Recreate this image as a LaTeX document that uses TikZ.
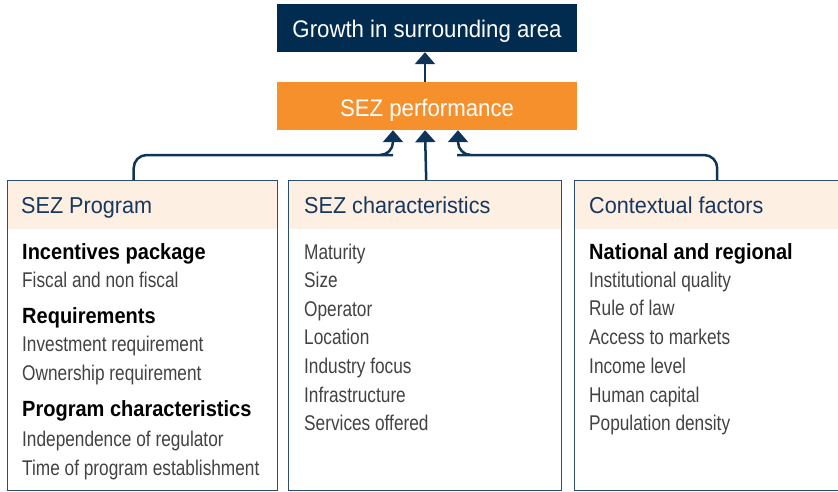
\documentclass[tikz,border=0pt]{standalone}
\usepackage{fontspec}
\setmainfont{Liberation Sans}
\newfontfamily\titlefont{Liberation Sans}[FakeStretch=0.925]
\newfontfamily\headfont{Liberation Sans}[FakeStretch=0.94]
\newfontfamily\groupfont{Liberation Sans}[FakeStretch=0.91]
\newfontfamily\itemfont{Liberation Sans}[FakeStretch=0.81]
\usetikzlibrary{arrows.meta,calc}

\definecolor{navy}{HTML}{022C4F}
\definecolor{orangefill}{HTML}{F6902D}
\definecolor{peach}{HTML}{FDF0E3}
\definecolor{linenavy}{HTML}{0E3558}
\definecolor{edgenavy}{HTML}{2B4D6E}
\definecolor{headtext}{HTML}{17375E}
\definecolor{itemgray}{HTML}{424242}

\tikzset{
  topbox/.style={rectangle, inner sep=0pt, minimum width=300pt, minimum height=48pt},
  toplabel/.style={anchor=base, inner sep=0pt, text=white,
    font=\titlefont\fontsize{24}{28}\selectfont},
  column/.style={rectangle, draw=edgenavy, line width=1.4pt, inner sep=0pt, anchor=north west},
  band/.style={rectangle, fill=peach, inner sep=0pt, anchor=north west},
  headlabel/.style={anchor=base west, inner sep=0pt, text=headtext,
    font=\headfont\fontsize{23}{27}\selectfont},
  grouplabel/.style={anchor=base west, inner sep=0pt, text=black,
    font=\groupfont\bfseries\fontsize{22}{26}\selectfont},
  itemlabel/.style={anchor=base west, inner sep=0pt, text=itemgray,
    font=\itemfont\fontsize{21.3}{25}\selectfont},
  conn/.style={draw=linenavy, line width=2.5pt, rounded corners=13pt,
    -{Triangle[width=20pt,length=12pt]}},
}

\begin{document}
\begin{tikzpicture}[x=1pt, y=-1pt]
\useasboundingbox (0,0) rectangle (838,491);
\clip (0,0) rectangle (838,491);

% outcome boxes
\node[topbox, fill=navy] (growth) at (427,28) {};
\node[topbox, fill=orangefill] (perf) at (427,106) {};
\node[toplabel] (growthtext) at (427,37.3) {Growth in surrounding area};
\node[toplabel] (perftext) at (427,116.7) {SEZ performance};

% header bands
\node[band, minimum width=270pt, minimum height=49pt] (progband) at (7,180) {};
\node[band, minimum width=273pt, minimum height=49pt] (charband) at (288,180) {};
\node[band, minimum width=272pt, minimum height=49pt] (ctxband) at (574,180) {};

% column frames
\node[column, minimum width=270pt, minimum height=309.5pt] (prog) at (7,180) {};
\node[column, minimum width=273pt, minimum height=309.5pt] (char) at (288,180) {};
\node[column, minimum width=272pt, minimum height=309.5pt] (ctx) at (574,180) {};

% connectors
\coordinate (perftop) at ([xshift=-2pt]perf.north);
\draw[conn] (perftop) -- ([xshift=-2pt]growth.south);
\draw[conn] ([xshift=-9pt]prog.north) |- (380,155) -| ([xshift=-34pt]perf.south);
\draw[conn] ([xshift=1pt]char.north) -- ([xshift=-2pt]perf.south);
\draw[conn] ([xshift=6.5pt]ctx.north) |- (470,155) -| ([xshift=31pt]perf.south);

% SEZ Program column
\node[headlabel] (h1) at (21,213.3) {SEZ Program};
\node[grouplabel] (p1) at (22,259.3) {Incentives package};
\node[itemlabel]  (p2) at (22,287.3) {Fiscal and non fiscal};
\node[grouplabel] (p3) at (22,323.3) {Requirements};
\node[itemlabel]  (p4) at (22,351.7) {Investment requirement};
\node[itemlabel]  (p5) at (22,380.0) {Ownership requirement};
\node[grouplabel] (p6) at (22,416.7) {Program characteristics};
\node[itemlabel]  (p7) at (22,446.7) {Independence of regulator};
\node[itemlabel]  (p8) at (22,475.0) {Time of program establishment};

% SEZ characteristics column
\node[headlabel] (h2) at (304,213.3) {SEZ characteristics};
\node[itemlabel] (c1) at (304,259.0) {Maturity};
\node[itemlabel] (c2) at (304,287.5) {Size};
\node[itemlabel] (c3) at (304,316.0) {Operator};
\node[itemlabel] (c4) at (304,344.5) {Location};
\node[itemlabel] (c5) at (304,373.0) {Industry focus};
\node[itemlabel] (c6) at (304,402.0) {Infrastructure};
\node[itemlabel] (c7) at (304,430.5) {Services offered};

% Contextual factors column
\node[headlabel]  (h3) at (589,213.3) {Contextual factors};
\node[grouplabel] (x1) at (589,259.0) {National and regional};
\node[itemlabel]  (x2) at (589,287.3) {Institutional quality};
\node[itemlabel]  (x3) at (589,315.7) {Rule of law};
\node[itemlabel]  (x4) at (589,344.3) {Access to markets};
\node[itemlabel]  (x5) at (589,373.3) {Income level};
\node[itemlabel]  (x6) at (589,402.3) {Human capital};
\node[itemlabel]  (x7) at (589,430.7) {Population density};
\end{tikzpicture}
\end{document}
